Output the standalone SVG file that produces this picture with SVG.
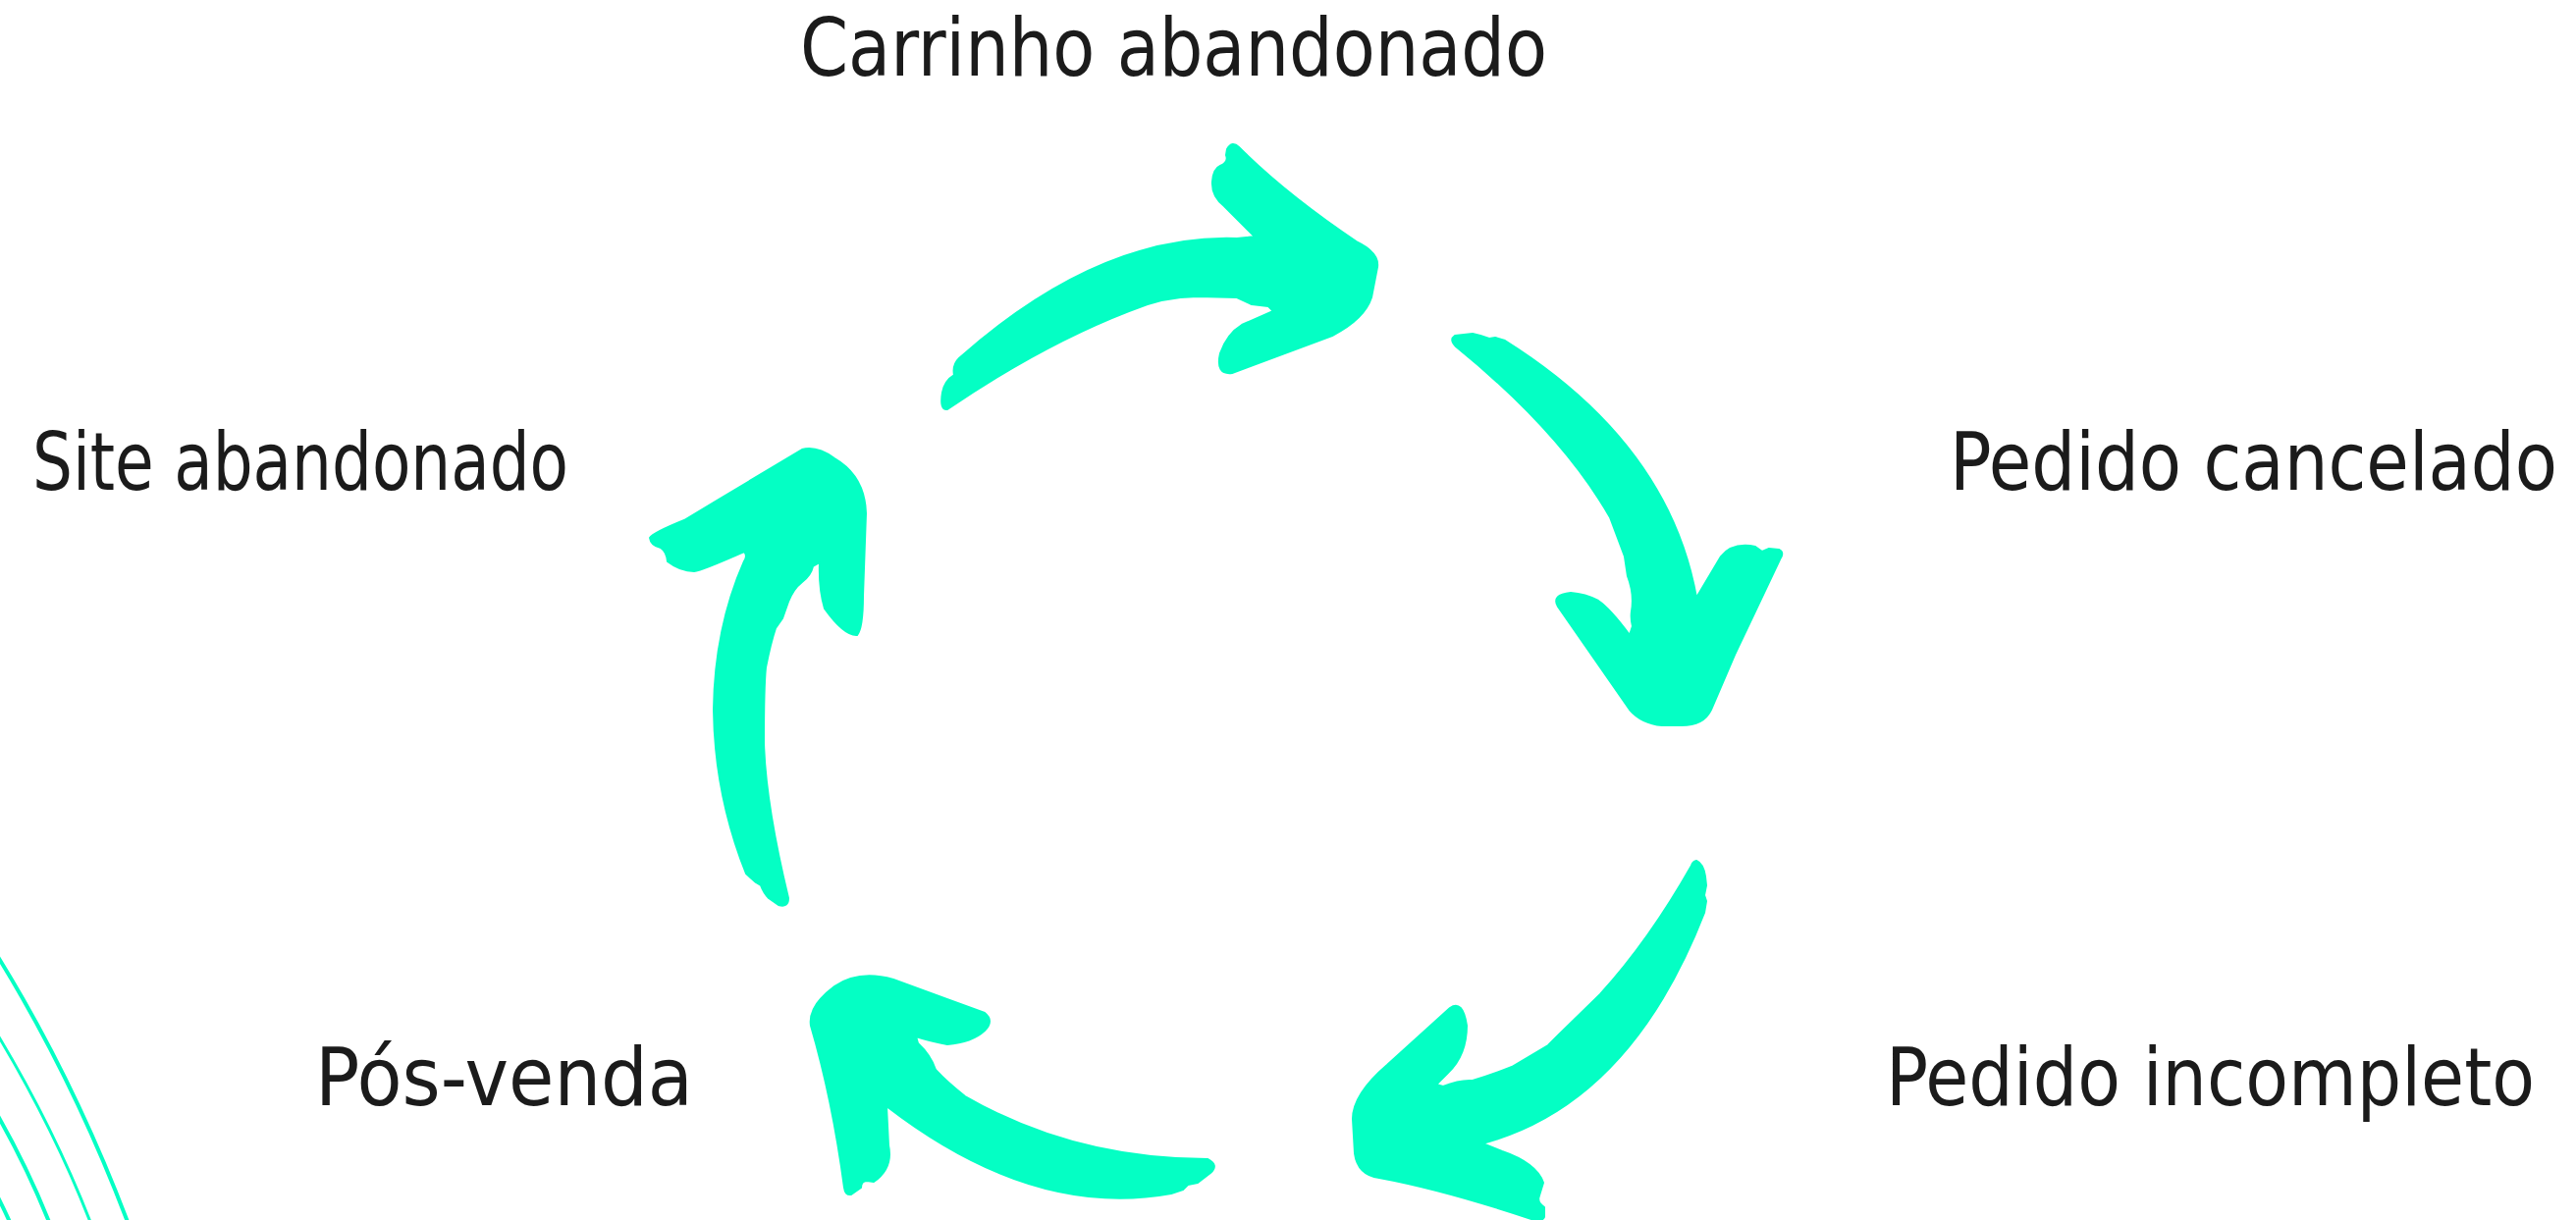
<svg xmlns="http://www.w3.org/2000/svg" width="2624" height="1243" viewBox="0 0 2624 1243">
<style>
.lbl{font-family:"DejaVu Sans Condensed","DejaVu Sans","Liberation Sans",sans-serif;font-stretch:condensed;font-size:82px;fill:#1b1b1b}
.arw{fill:#04FFC4;stroke:#04FFC4;stroke-width:2;stroke-linejoin:round}
.deco{fill:none;stroke:#04FFC4}
</style>
<rect width="2624" height="1243" fill="#ffffff"/>
<g id="decor">
<path class="deco" stroke-width="4" d="M -2,975 Q 75,1100 130,1245"/>
<path class="deco" stroke-width="3" d="M -2,1055 Q 55,1150 92,1245"/>
<path class="deco" stroke-width="4" d="M -2,1137 Q 28,1190 50,1245"/>
<path class="deco" stroke-width="4" d="M -2,1220 Q 4,1232 10,1245"/>
</g>
<g id="node-carrinho"><text class="lbl" x="815" y="77" textLength="761" lengthAdjust="spacingAndGlyphs">Carrinho abandonado</text></g>
<g id="node-cancelado"><text class="lbl" x="1986" y="499" textLength="619" lengthAdjust="spacingAndGlyphs">Pedido cancelado</text></g>
<g id="node-incompleto"><text class="lbl" x="1921" y="1126" textLength="661" lengthAdjust="spacingAndGlyphs">Pedido incompleto</text></g>
<g id="node-posvenda"><text class="lbl" x="321" y="1126" textLength="385" lengthAdjust="spacingAndGlyphs">Pós-venda</text></g>
<g id="node-site"><text class="lbl" x="33" y="499" textLength="546" lengthAdjust="spacingAndGlyphs">Site abandonado</text></g>
<g id="connectors">
<path id="arrow-top" class="arw" d="M 965,417 Q 1060,352 1150,317 Q 1185,302 1220,302 L 1260,303 L 1275,310 L 1292,312 L 1297,317 L 1265,331 Q 1250,340 1243,360 Q 1238,382 1255,380 L 1357,342 Q 1390,325 1397,303 L 1403,272 Q 1405,258 1383,247 Q 1310,198 1262,150 Q 1255,143 1250,152 L 1249,158 Q 1252,165 1243,169 Q 1236,172 1235,185 Q 1234,200 1247,210 L 1278,241 L 1260,243 Q 1120,238 977,365 Q 970,372 972,382 Q 962,388 960,400 Q 957,418 965,417 Z"/>
<path id="arrow-right" class="arw" d="M 1482,342 L 1500,340 L 1508,342 L 1517,345 L 1523,344 L 1533,347 Q 1700,452 1728,609 L 1753,567 Q 1765,552 1788,557 L 1795,562 L 1802,559 L 1812,560 Q 1818,563 1813,570 L 1767,667 L 1743,723 Q 1735,740 1710,739 L 1693,739 Q 1672,737 1660,723 L 1587,618 Q 1580,606 1600,604 Q 1615,605 1628,612 Q 1640,620 1660,647 L 1663,638 Q 1661,630 1662,623 Q 1665,605 1658,587 L 1655,567 L 1640,527 Q 1590,440 1483,353 Q 1476,346 1482,342 Z"/>
<path id="arrow-bottomright" class="arw" d="M 1728,877 Q 1735,880 1737,893 L 1738,902 L 1736,912 L 1738,918 L 1736,930 Q 1660,1125 1510,1165 L 1530,1173 Q 1565,1185 1572,1205 L 1568,1218 Q 1565,1225 1573,1230 L 1573,1240 Q 1571,1245 1560,1242 Q 1470,1212 1405,1200 Q 1383,1197 1380,1175 L 1378,1140 Q 1378,1115 1413,1085 L 1477,1027 Q 1490,1018 1494,1045 Q 1494,1075 1475,1093 L 1463,1105 L 1470,1107 Q 1487,1100 1500,1101 Q 1520,1095 1540,1087 L 1577,1065 L 1587,1055 L 1630,1013 Q 1680,958 1723,882 Q 1724,878 1728,877 Z"/>
<path id="arrow-bottom" class="arw" d="M 826,1045 Q 823,1025 850,1005 Q 875,988 910,998 L 1003,1032 Q 1013,1040 1003,1050 Q 990,1062 965,1064 Q 945,1060 933,1056 L 935,1063 Q 948,1075 953,1090 Q 965,1103 983,1117 Q 1094,1181 1230,1181 Q 1242,1187 1233,1195 L 1220,1205 L 1210,1207 L 1205,1212 L 1193,1216 Q 1052,1242 903,1127 L 905,1167 Q 910,1190 890,1204 L 883,1203 Q 877,1203 877,1210 L 867,1217 Q 861,1218 860,1210 Q 848,1120 826,1045 Z"/>
<path id="arrow-left" class="arw" d="M 662,548 Q 663,556 673,558 Q 679,562 680,572 Q 693,582 707,582 Q 715,581 758,562 Q 762,566 758,572 Q 728,640 727,723 Q 728,810 760,890 L 770,899 L 775,902 Q 778,910 783,915 L 793,922 Q 803,925 803,915 Q 780,820 778,757 Q 778,700 780,680 Q 785,655 790,640 L 797,630 L 803,613 Q 808,600 817,593 Q 826,586 828,577 L 835,573 Q 834,600 840,620 Q 860,648 873,647 Q 879,640 879,607 L 882,523 Q 881,485 850,467 Q 832,454 817,458 L 697,530 Q 665,543 662,548 Z"/>
</g>
</svg>
